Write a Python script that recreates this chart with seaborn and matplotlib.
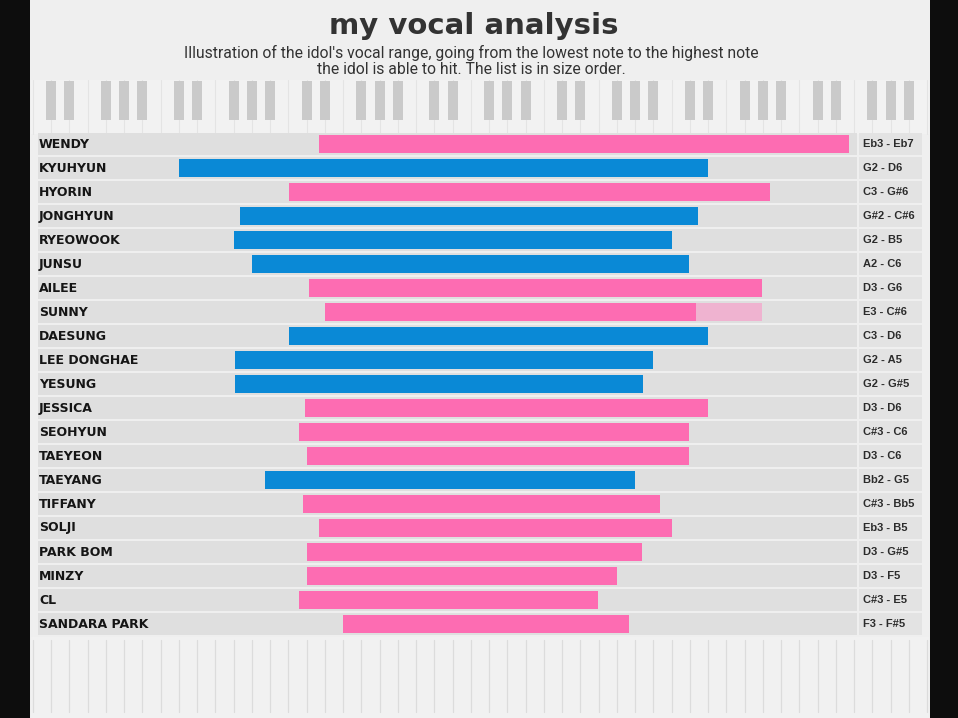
import numpy as np
import pandas as pd
import matplotlib
matplotlib.use("Agg")
import matplotlib.pyplot as plt
import seaborn as sns

# ---------------- data ----------------
names = ["WENDY", "KYUHYUN", "HYORIN", "JONGHYUN", "RYEOWOOK", "JUNSU", "AILEE",
         "SUNNY", "DAESUNG", "LEE DONGHAE", "YESUNG", "JESSICA", "SEOHYUN",
         "TAEYEON", "TAEYANG", "TIFFANY", "SOLJI", "PARK BOM", "MINZY", "CL",
         "SANDARA PARK"]
gender = ["F", "M", "F", "M", "M", "M", "F", "F", "M", "M", "M", "F", "F", "F",
          "M", "F", "F", "F", "F", "F", "F"]
range_labels = ["Eb3 - Eb7", "G2 - D6", "C3 - G#6", "G#2 - C#6", "G2 - B5",
                "A2 - C6", "D3 - G6", "E3 - C#6", "C3 - D6", "G2 - A5",
                "G2 - G#5", "D3 - D6", "C#3 - C6", "D3 - C6", "Bb2 - G5",
                "C#3 - Bb5", "Eb3 - B5", "D3 - G#5", "D3 - F5", "C#3 - E5",
                "F3 - F#5"]
# bar extents on the chart's horizontal position scale
low = [281, 141, 251, 202, 196, 214, 271, 287, 251, 197, 197, 267, 261, 269,
       227, 265, 281, 269, 269, 261, 305]
high = [811, 670, 732, 660, 634, 651, 724, 658, 670, 615, 605, 670, 651, 651,
        597, 622, 634, 604, 579, 560, 591]
# uncertain extension (drawn lighter)
ext_name = ["SUNNY"]
ext_low = [658]
ext_high = [724]

# ---------------- style ----------------
W, H = 958, 718
PINK = "#fd6cb2"
BLUE = "#0a89d6"
LIGHT_PINK = "#efb3d0"
BG = "#efefef"
BAND = "#dfdfdf"
CELL = "#e3e3e3"

sns.set_theme(style="white")
plt.rcParams["font.family"] = ["DejaVu Sans"]

fig = plt.figure(figsize=(W / 100, H / 100), dpi=100)
fig.patch.set_facecolor(BG)

# background decoration axes in pixel coordinates
bg = fig.add_axes([0, 0, 1, 1], zorder=-5)
bg.set_xlim(0, W)
bg.set_ylim(H, 0)
bg.axis("off")
bg.add_patch(plt.Rectangle((0, 0), 30, H, color="#0d0d0d", lw=0, zorder=5))
bg.add_patch(plt.Rectangle((930, 0), W - 930, H, color="#0d0d0d", lw=0, zorder=5))
# keyboards
key_w = 18.25
x0 = 33
bg.add_patch(plt.Rectangle((31, 80), 898, 54, color="#f2f2f2", lw=0, zorder=1))
bg.add_patch(plt.Rectangle((31, 637), 898, H - 637, color="#f1f1f1", lw=0, zorder=1))
for k in range(0, 50):
    xb = x0 + k * key_w
    if xb > 929:
        break
    bg.plot([xb, xb], [80, 134], color="#e4e4e4", lw=0.8, zorder=2)
    bg.plot([xb, xb], [640, 712], color="#dcdcdc", lw=0.9, zorder=2)
    # black keys at C|D, D|E, F|G, G|A, A|B boundaries
    if k % 7 in (1, 2, 4, 5, 6):
        bg.add_patch(plt.Rectangle((xb - 5, 81), 10, 39, color="#cacaca", lw=0,
                                   zorder=3))

# title
fig.text(474 / W, 1 - 26 / H, "my vocal analysis", ha="center", va="center",
         fontsize=21, fontweight="bold", color="#333333")
sub_font = ["Roboto", "DejaVu Sans"]
fig.text(471 / W, 1 - 53 / H,
         "Illustration of the idol's vocal range, going from the lowest note to the highest note",
         ha="center", va="center", fontsize=11.3, color="#333333", family=sub_font)
fig.text(471 / W, 1 - 69 / H,
         "the idol is able to hit. The list is in size order.",
         ha="center", va="center", fontsize=11.3, color="#333333", family=sub_font)

# main axes: x in position units, 0 = left edge of rows
ax = fig.add_axes([38 / W, (H - 636) / H, 884 / W, 504 / H])
ax.set_facecolor("none")

df = pd.DataFrame({"name": names, "gender": gender, "low": low, "high": high,
                   "range": range_labels})
df["span"] = df["high"] - df["low"]

# row bands
for i in range(len(names)):
    ax.axhspan(i - 0.46, i + 0.46, xmin=0, xmax=819 / 884, color=BAND, lw=0, zorder=0)
    ax.axhspan(i - 0.46, i + 0.46, xmin=821 / 884, xmax=1, color=CELL, lw=0, zorder=0)

for g, col in (("F", PINK), ("M", BLUE)):
    sub = df[df["gender"] == g]
    sns.barplot(data=sub, x="span", y="name", order=names, orient="h",
                color=col, width=0.72, errorbar=None, ax=ax,
                left=sub["low"].values, saturation=1, zorder=2, linewidth=0)

ext = pd.DataFrame({"name": ext_name, "low": ext_low, "high": ext_high})
ext["span"] = ext["high"] - ext["low"]
sns.barplot(data=ext, x="span", y="name", order=names, orient="h",
            color=LIGHT_PINK, width=0.72, errorbar=None, ax=ax,
            left=ext["low"].values, saturation=1, zorder=2, linewidth=0)

ax.set_xlim(0, 884)
ax.set_ylim(len(names) - 0.5, -0.5)
ax.set_xlabel("")
ax.set_ylabel("")
ax.set_xticks([])
ax.set_yticks([])
for s in ax.spines.values():
    s.set_visible(False)

for i, (n, r) in enumerate(zip(names, range_labels)):
    ax.text(1, i, n, ha="left", va="center", fontsize=9, fontweight="bold",
            color="#151515", zorder=3)
    ax.text(825, i, r, ha="left", va="center", fontsize=8, fontweight="bold",
            color="#2b2b2b", family=["Liberation Sans", "DejaVu Sans"], zorder=3)

fig.savefig("out.png", dpi=100, facecolor=BG)
